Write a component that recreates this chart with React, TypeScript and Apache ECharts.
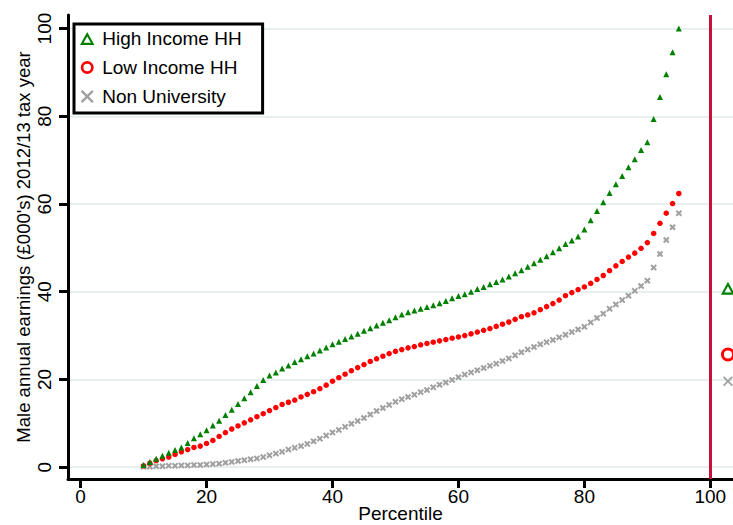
import React, { useEffect, useRef } from "react";
import * as echarts from "echarts";

const percentiles = [10, 11, 12, 13, 14, 15, 16, 17, 18, 19, 20, 21, 22, 23, 24, 25, 26, 27, 28, 29, 30, 31, 32, 33, 34, 35, 36, 37, 38, 39, 40, 41, 42, 43, 44, 45, 46, 47, 48, 49, 50, 51, 52, 53, 54, 55, 56, 57, 58, 59, 60, 61, 62, 63, 64, 65, 66, 67, 68, 69, 70, 71, 72, 73, 74, 75, 76, 77, 78, 79, 80, 81, 82, 83, 84, 85, 86, 87, 88, 89, 90, 91, 92, 93, 94, 95];

const highIncome = [
  0.5, 1.2, 1.9, 2.6, 3.3, 3.9, 4.5, 5.5, 6.6, 7.5,
  8.4, 9.5, 10.6, 11.9, 13.1, 14.4, 15.7, 17.1, 18.5, 19.9,
  20.9, 21.6, 22.5, 23.2, 24.0, 24.6, 25.3, 25.9, 26.6, 27.3,
  28.0, 28.6, 29.2, 29.8, 30.4, 31.1, 31.7, 32.3, 32.9, 33.5,
  34.2, 34.8, 35.3, 35.7, 36.1, 36.5, 36.9, 37.4, 37.9, 38.5,
  39.0, 39.4, 40.0, 40.6, 41.1, 41.7, 42.2, 42.8, 43.5, 44.2,
  44.9, 45.7, 46.5, 47.3, 48.1, 49.0, 49.9, 50.9, 51.7, 52.6,
  54.2, 56.3, 58.4, 60.4, 62.5, 64.5, 66.4, 68.4, 70.2, 72.3,
  74.1, 79.4, 84.4, 89.6, 94.6, 100.0,
];

const lowIncome = [
  0.3, 0.9, 1.5, 1.9, 2.3, 2.9, 3.5, 4.0, 4.5, 4.8,
  5.4, 6.1, 7.0, 7.9, 8.7, 9.4, 10.1, 10.8, 11.5, 12.2,
  12.9, 13.6, 14.3, 14.8, 15.3, 16.0, 16.6, 17.2, 17.9, 18.7,
  19.6, 20.4, 21.2, 22.0, 22.7, 23.4, 24.1, 24.7, 25.3, 25.9,
  26.4, 26.8, 27.2, 27.5, 27.9, 28.2, 28.5, 28.8, 29.1, 29.4,
  29.7, 30.0, 30.4, 30.8, 31.2, 31.6, 32.1, 32.6, 33.1, 33.7,
  34.3, 34.7, 35.2, 35.9, 36.6, 37.3, 38.1, 39.1, 39.8, 40.5,
  41.1, 41.9, 42.8, 43.7, 44.8, 45.9, 46.9, 47.9, 48.8, 49.9,
  51.2, 53.3, 55.6, 57.9, 60.1, 62.4,
];

const nonUniversity = [
  0.1, 0.1, 0.2, 0.2, 0.3, 0.3, 0.4, 0.4, 0.5, 0.5,
  0.6, 0.7, 0.8, 1.0, 1.2, 1.4, 1.6, 1.8, 2.0, 2.3,
  2.7, 3.1, 3.5, 4.0, 4.4, 4.8, 5.3, 5.9, 6.5, 7.2,
  7.9, 8.5, 9.2, 9.9, 10.5, 11.2, 12.0, 12.8, 13.5, 14.2,
  14.9, 15.5, 16.0, 16.5, 17.1, 17.6, 18.2, 18.8, 19.3, 19.9,
  20.5, 21.1, 21.6, 22.1, 22.6, 23.1, 23.6, 24.2, 24.8, 25.5,
  26.2, 26.8, 27.4, 28.0, 28.5, 29.0, 29.6, 30.2, 30.8, 31.4,
  32.0, 33.0, 34.0, 35.0, 36.1, 37.1, 38.1, 39.1, 40.2, 41.3,
  42.5, 45.5, 48.6, 51.8, 54.7, 57.9,
];

const seriesNames = ["High Income HH", "Low Income HH", "Non University"];
const seriesColors = ["#008000", "#ff0000", "#a0a0a0"];
const overallX = 102.8;
const overallValues = [40.8, 25.7, 19.6];
const xTicks = [0, 20, 40, 60, 80, 100];
const yTicks = [0, 20, 40, 60, 80, 100];
const cutoffPercentile = 100;

const TRI = "path://M5 0L10 9L0 9Z M5 3.1L2.5 7.5L7.5 7.5Z";
const RING = "path://M5 0A5 5 0 1 1 5 10A5 5 0 1 1 5 0Z M5 2.1A2.9 2.9 0 1 0 5 7.9A2.9 2.9 0 1 0 5 2.1Z";
const XMARK = "path://M0 1.3L1.3 0L5 3.7L8.7 0L10 1.3L6.3 5L10 8.7L8.7 10L5 6.3L1.3 10L0 8.7L3.7 5Z";
const XMARK_BOLD = "path://M0 2.2L2.2 0L5 2.8L7.8 0L10 2.2L7.2 5L10 7.8L7.8 10L5 7.2L2.2 10L0 7.8L2.8 5Z";

const FONT = "'Liberation Sans', Arial, Helvetica, sans-serif";

export default function App() {
  const ref = useRef<HTMLDivElement>(null);

  useEffect(() => {
    if (!ref.current) return;
    const chart = echarts.init(ref.current, undefined, { renderer: "svg" });

    const smallSymbols = ["triangle", "circle", XMARK_BOLD];
    const smallSizes = [6, 5.5, 6.5];
    const bigSymbols = [TRI, RING, XMARK];
    const bigSizes: any[] = [[14, 13], 14, 10];
    const values = [highIncome, lowIncome, nonUniversity];

    const series: any[] = values.map((vals, s) => ({
      name: seriesNames[s],
      type: "scatter",
      symbol: smallSymbols[s],
      symbolSize: smallSizes[s],
      itemStyle: { color: seriesColors[s], opacity: 1 },
      z: 3 + (2 - s),
      data: [
        ...percentiles.map((p, i) => [p, vals[i]]),
        { value: [overallX, overallValues[s]], symbol: bigSymbols[s], symbolSize: bigSizes[s] },
      ],
    }));

    series[0].markLine = {
      silent: true,
      symbol: "none",
      label: { show: false },
      lineStyle: { color: "#c8103c", width: 3, type: "solid" },
      data: [{ xAxis: cutoffPercentile }],
      z: 1,
    };

    const axisCommon = {
      type: "value",
      nameMoveOverlap: false,
      axisLine: { show: true, onZero: false, lineStyle: { color: "#000", width: 3 } },
      axisTick: { show: true, inside: false, length: 9, lineStyle: { color: "#000", width: 3 } },
      nameTextStyle: { color: "#000", fontSize: 19, fontFamily: FONT },
    };

    chart.setOption({
      animation: false,
      backgroundColor: "#fff",
      textStyle: { fontFamily: FONT },
      grid: { left: 68, right: 0, top: 15, bottom: 46, containLabel: false, outerBoundsMode: "none" },
      legend: {
        show: true,
        orient: "vertical",
        left: 74,
        top: 24,
        padding: [5, 21, 7, 6],
        itemGap: 10,
        itemWidth: 20,
        itemHeight: 13,
        borderColor: "#000",
        borderWidth: 3,
        borderRadius: 0,
        backgroundColor: "#fff",
        textStyle: { color: "#000", fontSize: 19, fontFamily: FONT },
        data: [
          { name: seriesNames[0], icon: TRI },
          { name: seriesNames[1], icon: RING },
          { name: seriesNames[2], icon: XMARK },
        ],
      },
      xAxis: {
        ...axisCommon,
        min: -2,
        max: 103.6,
        name: "Percentile",
        nameLocation: "middle",
        nameGap: 25,
        axisTick: { ...axisCommon.axisTick, customValues: xTicks },
        axisLabel: { customValues: xTicks, color: "#000", fontSize: 19, fontFamily: FONT, margin: 8 },
        splitLine: { show: false },
      },
      yAxis: {
        ...axisCommon,
        min: -2.7,
        max: 103.1,
        name: "Male annual earnings (£000's) 2012/13 tax year",
        nameLocation: "middle",
        nameRotate: 90,
        nameGap: 35,
        nameTextStyle: { color: "#000", fontSize: 18.5, fontFamily: FONT },
        axisTick: { ...axisCommon.axisTick, customValues: yTicks },
        axisLabel: { customValues: yTicks, color: "#000", fontSize: 19, fontFamily: FONT, rotate: 90, margin: 14 },
        splitLine: { show: true, lineStyle: { color: "#e8eff0", width: 2 } },
      },
      series,
    });

    return () => chart.dispose();
  }, []);

  return (
    <div
      ref={ref}
      style={{ width: 733, height: 525, position: "fixed", left: 0, top: 0, background: "#fff" }}
    />
  );
}
